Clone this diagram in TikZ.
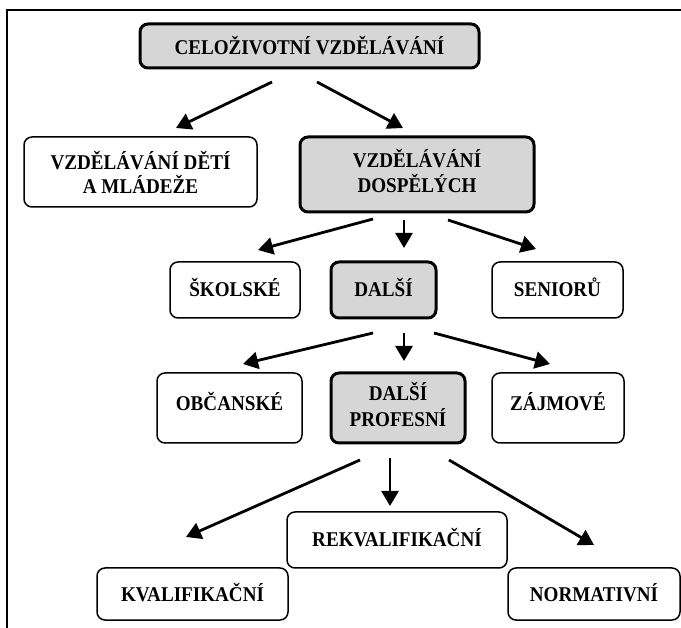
\documentclass[tikz,border=0pt]{standalone}
\usepackage{fontspec}
\setmainfont{Liberation Serif}[FakeStretch=0.91]
\usetikzlibrary{arrows.meta}
\definecolor{boxgray}{RGB}{214,214,214}
\tikzset{
  base/.style={draw=black, rounded corners=8pt, align=center, inner sep=0pt,
    font=\fontsize{21}{24}\selectfont\bfseries},
  wbox/.style={base, fill=white, line width=1.5pt},
  gbox/.style={base, fill=boxgray, line width=3pt},
  arr/.style={line width=2.8pt, -{Triangle[length=15pt,width=17pt]}},
}
\begin{document}
\begin{tikzpicture}[x=1pt,y=-1pt]
\useasboundingbox (0,0) rectangle (681,628);
\draw[line width=1.4pt] (7,628) -- (7,10) -- (681,10);

\node[gbox, minimum width=339pt, minimum height=44pt] (top) at (309.5,46) {CELOŽIVOTNÍ VZDĚLÁVÁNÍ};
\node[wbox, minimum width=233pt, minimum height=70pt] (deti) at (140.5,172) {VZDĚLÁVÁNÍ DĚTÍ\\A MLÁDEŽE};
\node[gbox, minimum width=234pt, minimum height=75pt] (dosp) at (417,174.5) {\raisebox{2pt}{\begin{tabular}{@{}c@{}}VZDĚLÁVÁNÍ\\DOSPĚLÝCH\end{tabular}}};

\node[wbox, minimum width=130pt, minimum height=56pt] (skol) at (235,290) {\raisebox{5pt}{ŠKOLSKÉ}};
\node[gbox, minimum width=105pt, minimum height=56pt] (dalsi) at (383.5,290) {\raisebox{5pt}{DALŠÍ}};
\node[wbox, minimum width=131pt, minimum height=56pt] (sen) at (557.5,290) {\raisebox{6pt}{SENIORŮ}};

\node[wbox, minimum width=145pt, minimum height=70pt] (obc) at (229.5,408) {\raisebox{13pt}{OBČANSKÉ}};
\node[gbox, minimum width=134pt, minimum height=70pt] (dprof) at (398,408) {\raisebox{3pt}{\begin{tabular}{@{}c@{}}DALŠÍ\\PROFESNÍ\end{tabular}}};
\node[wbox, minimum width=132pt, minimum height=70pt] (zaj) at (558,408) {\raisebox{13pt}{ZÁJMOVÉ}};

\node[wbox, minimum width=220pt, minimum height=56pt] (rekv) at (397,540) {\raisebox{6pt}{REKVALIFIKAČNÍ}};
\node[wbox, minimum width=191pt, minimum height=52pt] (kval) at (192.5,594) {\raisebox{4pt}{KVALIFIKAČNÍ}};
\node[wbox, minimum width=172pt, minimum height=52pt] (norm) at (594,594) {\raisebox{4pt}{NORMATIVNÍ}};

% arrow end points
\coordinate (a1s) at (272,82);  \coordinate (a1e) at (176,128);
\coordinate (a2s) at (317,82);  \coordinate (a2e) at (403,128);
\coordinate (b1s) at (373,219); \coordinate (b1e) at (258,250);
\coordinate (b2s) at (404,220); \coordinate (b2e) at (404,248);
\coordinate (b3s) at (448,220); \coordinate (b3e) at (536,249);
\coordinate (c1s) at (373,333); \coordinate (c1e) at (243,364);
\coordinate (c2s) at (404,333); \coordinate (c2e) at (404,361);
\coordinate (c3s) at (434,333); \coordinate (c3e) at (550,364);
\coordinate (d1s) at (360,460); \coordinate (d1e) at (186,537);
\coordinate (d2s) at (390,458); \coordinate (d2e) at (390,506);
\coordinate (d3s) at (449,460); \coordinate (d3e) at (594,545);

\foreach \s/\e in {a1s/a1e,a2s/a2e,b1s/b1e,b2s/b2e,b3s/b3e,c1s/c1e,c2s/c2e,c3s/c3e,d1s/d1e,d2s/d2e,d3s/d3e}
  \draw[arr] (\s) -- (\e);
\end{tikzpicture}
\end{document}
